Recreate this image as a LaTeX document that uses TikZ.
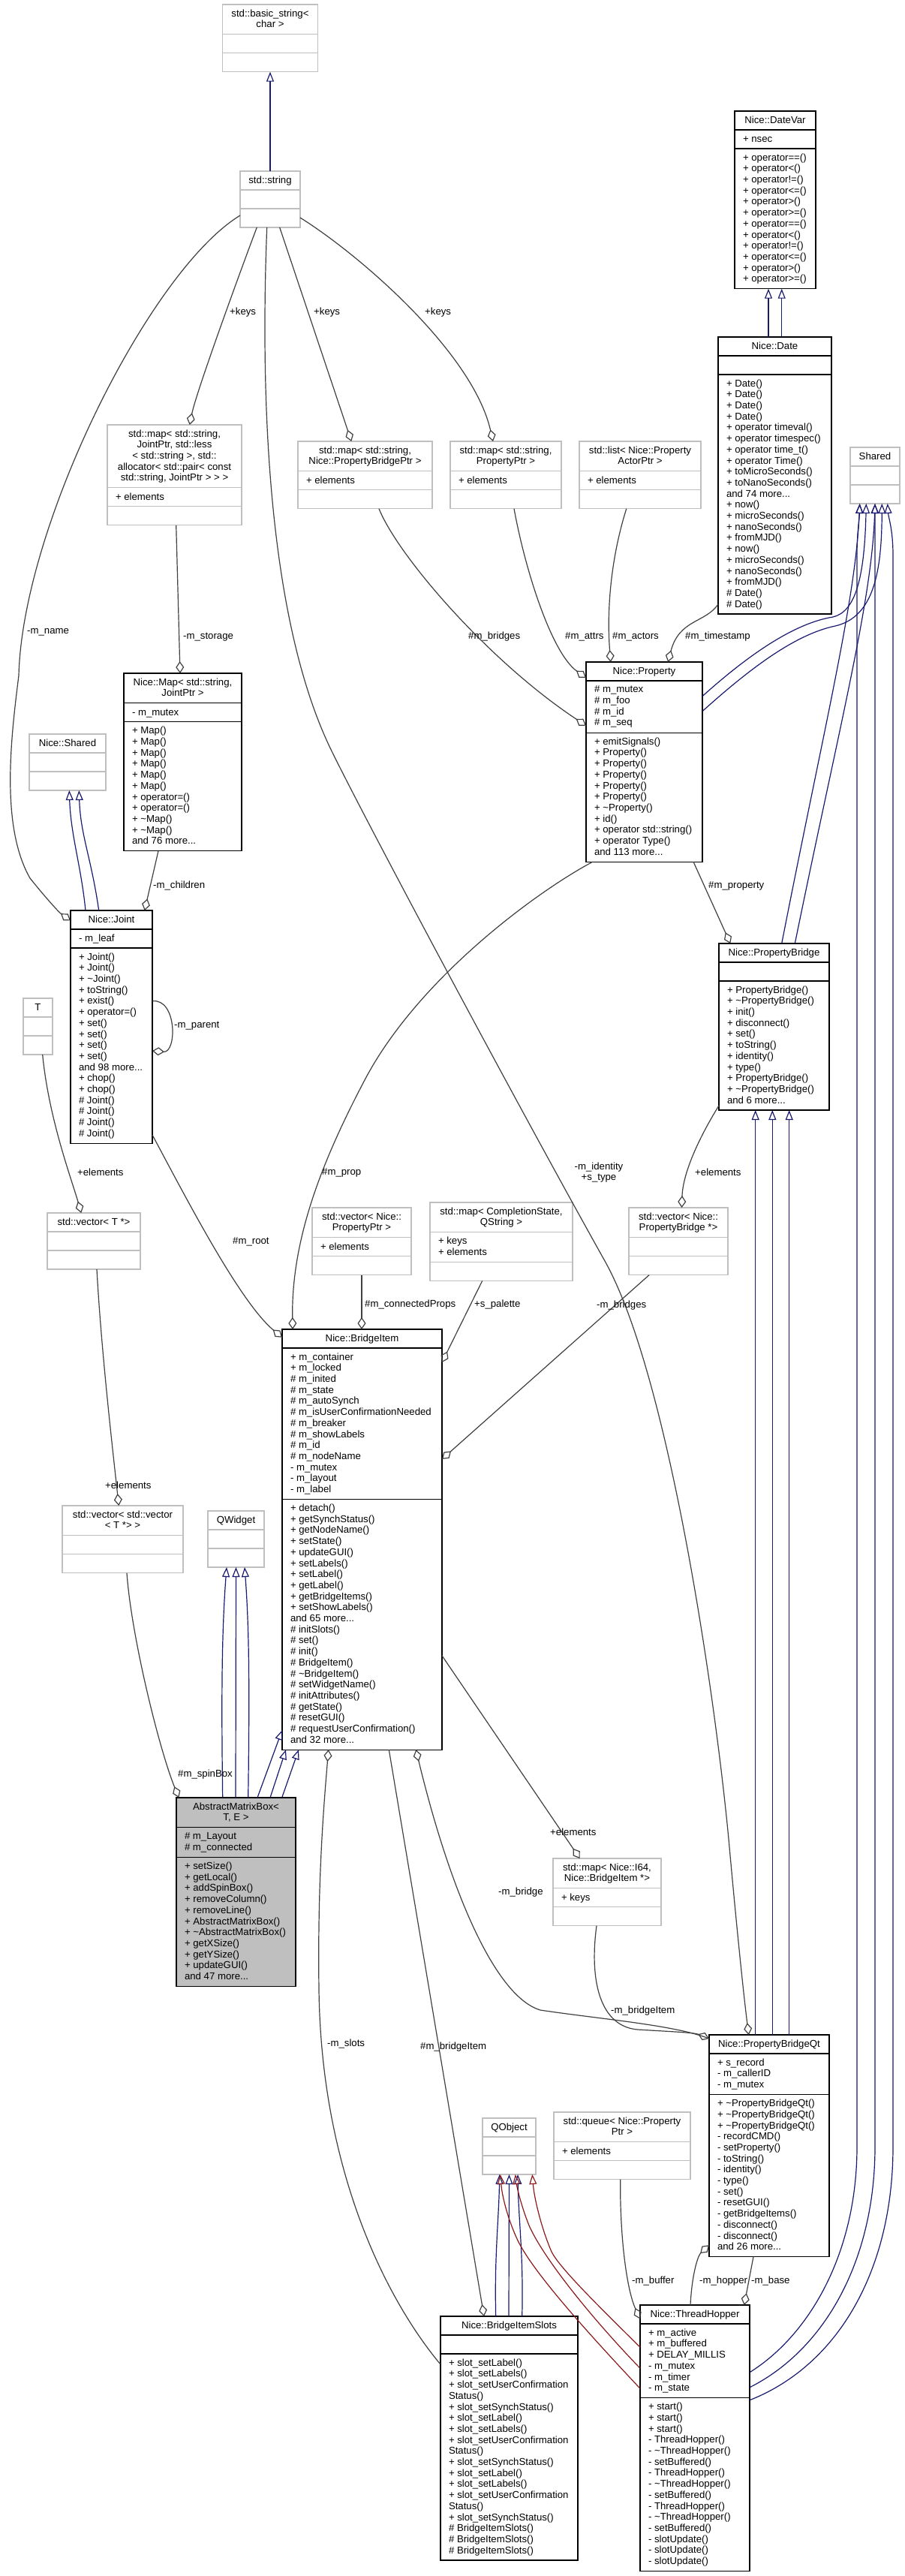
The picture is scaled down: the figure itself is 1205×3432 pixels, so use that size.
\documentclass[tikz,border=0pt]{standalone}
\usepackage{fontspec}
\setmainfont{Liberation Sans}
\usetikzlibrary{arrows.meta,calc}
\definecolor{boxgray}{HTML}{BFBFBF}
\definecolor{fillgray}{HTML}{BFBFBF}
\definecolor{edgegray}{HTML}{404040}
\definecolor{inhblue}{HTML}{191970}
\definecolor{inhred}{HTML}{8B1A1A}
\tikzset{
 txt/.style={inner sep=0pt, outer sep=0pt, font=\fontsize{13.2}{14.7}\selectfont, execute at begin node={\rule{0pt}{10pt}}},
 titletext/.style={txt, anchor=north, align=center},
 bodytext/.style={txt, anchor=north west, align=left},
 lbl/.style={inner sep=0pt, font=\fontsize{13.2}{14.7}\selectfont, anchor=west},
 inh/.style={draw=inhblue, line width=1.2pt, -{Triangle[open, length=13pt, width=10pt]}},
 inhr/.style={draw=inhred, line width=1.2pt, -{Triangle[open, length=13pt, width=10pt]}},
 agg/.style={draw=edgegray, line width=1.2pt, -{Diamond[open, length=16pt, width=11pt]}},
}
\pgfkeys{/umlb/.is family}
\pgfkeys{/umlb/.cd,
 x/.store in=\clsX, y/.store in=\clsY, w/.store in=\clsW,
 t/.store in=\clsT, a/.store in=\clsA, m/.store in=\clsM,
 doc/.code={\def\clsB{black}\def\clsF{white}},
 undoc/.code={\def\clsB{boxgray}\def\clsF{white}},
 filled/.code={\def\clsB{black}\def\clsF{fillgray}}}
\newcommand\umlbox[5]{%
 \pgfkeys{/umlb/.cd, t=1, a=1, m=1, undoc, #2}%
 \pgfmathsetmacro\hT{10.3+14.7*\clsT}%
 \pgfmathsetmacro\hA{10.3+14.7*\clsA}%
 \pgfmathsetmacro\hM{10.3+14.7*\clsM}%
 \pgfmathsetmacro\hH{\hT+\hA+\hM}%
 \pgfmathsetmacro\yA{\clsY+\hT}%
 \pgfmathsetmacro\yB{\clsY+\hT+\hA}%
 \pgfmathsetmacro\xR{\clsX+\clsW}%
 \pgfmathsetmacro\xC{\clsX+\clsW/2}%
 \node[draw=\clsB, fill=\clsF, line width=1.2pt, inner sep=0pt, outer sep=0pt,
   minimum width=\clsW pt, minimum height=\hH pt, anchor=north west] (#1) at (\clsX,\clsY) {};
 \draw[draw=\clsB, line width=1.2pt] (\clsX,\yA) -- (\xR,\yA) (\clsX,\yB) -- (\xR,\yB);
 \node[titletext] (#1-t) at (\xC,\clsY+6.6) {#3};
 \node[bodytext] (#1-a) at (\clsX+11,\yA+6.6) {#4};
 \node[bodytext] (#1-m) at (\clsX+11,\yB+6.6) {#5};
}
\begin{document}
\begin{tikzpicture}[x=1pt,y=-1pt]
\fill[white] (0,0) rectangle (1205,3432);
\useasboundingbox (0,0) rectangle (1205,3432);

% ---------- classes ----------
\umlbox{basic}{x=296.5,y=6,w=127,t=2}{std::basic\_string<\\char >}{}{}
\umlbox{string}{x=320,y=228,w=80}{std::string}{}{}
\umlbox{DateVar}{x=979,y=148,w=108,m=12,doc}{Nice::DateVar}{+ nsec}{+ operator==()\\+ operator<()\\+ operator!=()\\+ operator<=()\\+ operator>()\\+ operator>=()\\+ operator==()\\+ operator<()\\+ operator!=()\\+ operator<=()\\+ operator>()\\+ operator>=()}
\umlbox{Date}{x=957,y=449,w=151,m=21,doc}{Nice::Date}{}{+ Date()\\+ Date()\\+ Date()\\+ Date()\\+ operator timeval()\\+ operator timespec()\\+ operator time\_t()\\+ operator Time()\\+ toMicroSeconds()\\+ toNanoSeconds()\\and 74 more...\\+ now()\\+ microSeconds()\\+ nanoSeconds()\\+ fromMJD()\\+ now()\\+ microSeconds()\\+ nanoSeconds()\\+ fromMJD()\\\# Date()\\\# Date()}
\umlbox{Shared}{x=1133,y=596,w=66}{Shared}{}{}
\umlbox{mapJ}{x=143,y=566,w=179,t=5}{std::map< std::string,\\ JointPtr, std::less\\< std::string >, std::\\allocator< std::pair< const\\ std::string, JointPtr > > >}{+ elements}{}
\umlbox{mapPB}{x=397,y=588,w=179,t=2}{std::map< std::string,\\ Nice::PropertyBridgePtr >}{+ elements}{}
\umlbox{mapP}{x=600,y=588,w=148,t=2}{std::map< std::string,\\PropertyPtr >}{+ elements}{}
\umlbox{listA}{x=772,y=588,w=162,t=2}{std::list< Nice::Property\\ActorPtr >}{+ elements}{}
\umlbox{Property}{x=781,y=882,w=155,a=4,m=11,doc}{Nice::Property}{\# m\_mutex\\\# m\_foo\\\# m\_id\\\# m\_seq}{+ emitSignals()\\+ Property()\\+ Property()\\+ Property()\\+ Property()\\+ Property()\\+ \textasciitilde Property()\\+ id()\\+ operator std::string()\\+ operator Type()\\and 113 more...}
\umlbox{NiceMap}{x=165,y=897,w=157,t=2,m=11,doc}{Nice::Map< std::string,\\ JointPtr >}{- m\_mutex}{+ Map()\\+ Map()\\+ Map()\\+ Map()\\+ Map()\\+ Map()\\+ operator=()\\+ operator=()\\+ \textasciitilde Map()\\+ \textasciitilde Map()\\and 76 more...}
\umlbox{NShared}{x=39,y=978,w=102}{Nice::Shared}{}{}
\umlbox{Joint}{x=94,y=1213,w=109,m=17,doc}{Nice::Joint}{- m\_leaf}{+ Joint()\\+ Joint()\\+ \textasciitilde Joint()\\+ toString()\\+ exist()\\+ operator=()\\+ set()\\+ set()\\+ set()\\+ set()\\and 98 more...\\+ chop()\\+ chop()\\\# Joint()\\\# Joint()\\\# Joint()\\\# Joint()}
\umlbox{T}{x=31,y=1330,w=39}{T}{}{}
\umlbox{vecT}{x=63,y=1616,w=124}{std::vector< T *>}{}{}
\umlbox{PB}{x=958,y=1257,w=147,m=11,doc}{Nice::PropertyBridge}{}{+ PropertyBridge()\\+ \textasciitilde PropertyBridge()\\+ init()\\+ disconnect()\\+ set()\\+ toString()\\+ identity()\\+ type()\\+ PropertyBridge()\\+ \textasciitilde PropertyBridge()\\and 6 more...}
\umlbox{vecPP}{x=416,y=1609,w=132,t=2}{std::vector< Nice::\\PropertyPtr >}{+ elements}{}
\umlbox{mapCS}{x=573,y=1602,w=190,t=2,a=2}{std::map< CompletionState,\\ QString >}{+ keys\\+ elements}{}
\umlbox{vecPB}{x=838,y=1609,w=132,t=2}{std::vector< Nice::\\PropertyBridge *>}{}{}
\umlbox{BI}{x=376,y=1771,w=213,a=13,m=22,doc}{Nice::BridgeItem}{+ m\_container\\+ m\_locked\\\# m\_inited\\\# m\_state\\\# m\_autoSynch\\\# m\_isUserConfirmationNeeded\\\# m\_breaker\\\# m\_showLabels\\\# m\_id\\\# m\_nodeName\\- m\_mutex\\- m\_layout\\- m\_label}{+ detach()\\+ getSynchStatus()\\+ getNodeName()\\+ setState()\\+ updateGUI()\\+ setLabels()\\+ setLabel()\\+ getLabel()\\+ getBridgeItems()\\+ setShowLabels()\\and 65 more...\\\# initSlots()\\\# set()\\\# init()\\\# BridgeItem()\\\# \textasciitilde BridgeItem()\\\# setWidgetName()\\\# initAttributes()\\\# getState()\\\# resetGUI()\\\# requestUserConfirmation()\\and 32 more...}
\umlbox{QWidget}{x=277,y=2013,w=75}{QWidget}{}{}
\umlbox{vecVT}{x=83,y=2006,w=161,t=2}{std::vector< std::vector\\< T *> >}{}{}
\umlbox{AMB}{x=235,y=2395,w=159,t=2,a=2,m=11,filled}{AbstractMatrixBox<\\ T, E >}{\# m\_Layout\\\# m\_connected}{+ setSize()\\+ getLocal()\\+ addSpinBox()\\+ removeColumn()\\+ removeLine()\\+ AbstractMatrixBox()\\+ \textasciitilde AbstractMatrixBox()\\+ getXSize()\\+ getYSize()\\+ updateGUI()\\and 47 more...}
\umlbox{mapI64}{x=737,y=2476,w=144,t=2}{std::map< Nice::I64,\\ Nice::BridgeItem *>}{+ keys}{}
\umlbox{PBQt}{x=945,y=2711,w=160,a=3,m=14,doc}{Nice::PropertyBridgeQt}{+ s\_record\\- m\_callerID\\- m\_mutex}{+ \textasciitilde PropertyBridgeQt()\\+ \textasciitilde PropertyBridgeQt()\\+ \textasciitilde PropertyBridgeQt()\\- recordCMD()\\- setProperty()\\- toString()\\- identity()\\- type()\\- set()\\- resetGUI()\\- getBridgeItems()\\- disconnect()\\- disconnect()\\and 26 more...}
\umlbox{queue}{x=738,y=2814,w=182,t=2}{std::queue< Nice::Property\\Ptr >}{+ elements}{}
\umlbox{QObject}{x=643,y=2822,w=71}{QObject}{}{}
\umlbox{BIS}{x=587,y=3086,w=183,m=18,doc}{Nice::BridgeItemSlots}{}{+ slot\_setLabel()\\+ slot\_setLabels()\\+ slot\_setUserConfirmation\\Status()\\+ slot\_setSynchStatus()\\+ slot\_setLabel()\\+ slot\_setLabels()\\+ slot\_setUserConfirmation\\Status()\\+ slot\_setSynchStatus()\\+ slot\_setLabel()\\+ slot\_setLabels()\\+ slot\_setUserConfirmation\\Status()\\+ slot\_setSynchStatus()\\\# BridgeItemSlots()\\\# BridgeItemSlots()\\\# BridgeItemSlots()}
\umlbox{TH}{x=853,y=3071,w=146,a=6,m=15,doc}{Nice::ThreadHopper}{+ m\_active\\+ m\_buffered\\+ DELAY\_MILLIS\\- m\_mutex\\- m\_timer\\- m\_state}{+ start()\\+ start()\\+ start()\\- ThreadHopper()\\- \textasciitilde ThreadHopper()\\- setBuffered()\\- ThreadHopper()\\- \textasciitilde ThreadHopper()\\- setBuffered()\\- ThreadHopper()\\- \textasciitilde ThreadHopper()\\- setBuffered()\\- slotUpdate()\\- slotUpdate()\\- slotUpdate()}

% ---------- inheritance ----------
\draw[inh] (string.north) -- (basic.south);
\draw[inh] ([xshift=-8.5pt]Date.north) -- ([xshift=-9pt]DateVar.south);
\draw[inh] ([xshift=9.2pt]Date.north) -- ([xshift=8.7pt]DateVar.south);
\draw[inh] ([xshift=20pt]Joint.north west) .. controls +(-6,-60) and +(2,60) .. ([xshift=2.3pt]NShared.south);
\draw[inh] ([xshift=37.7pt]Joint.north west) .. controls +(-10,-70) and +(2,60) .. ([xshift=15.3pt]NShared.south);
\draw[inh] ([yshift=-45.6pt]Property.north east) .. controls (1000,870) and (1060,830) .. (1110,822) .. controls (1140,815) and (1152,770) .. ([xshift=-11.7pt]Shared.south);
\draw[inh] ([yshift=-65.6pt]Property.north east) .. controls (1000,890) and (1060,845) .. (1113,834) .. controls (1165,822) and (1175,760) .. ([xshift=9.3pt]Shared.south);
\draw[inh] ([xshift=83.7pt]PB.north west) .. controls (1100,960) and (1140,800) .. ([xshift=-20.3pt]Shared.south);
\draw[inh] ([xshift=101.3pt]PB.north west) .. controls (1120,960) and (1162,800) .. (Shared.south);
\draw[inh] ([yshift=-89.7pt]TH.north east) .. controls (1080,3110) and (1142,3000) .. (1142,2860) -- (1142,740) .. controls (1142,710) and (1145,695) .. ([xshift=-20.3pt]Shared.south);
\draw[inh] ([yshift=-109.7pt]TH.north east) .. controls (1100,3130) and (1166,3010) .. (1166,2860) -- (Shared.south);
\draw[inh] ([yshift=-126.7pt]TH.north east) .. controls (1120,3150) and (1190,3020) .. (1190,2860) -- (1190,740) .. controls (1190,705) and (1184,690) .. ([xshift=16.7pt]Shared.south);
\draw[inh] ([xshift=61.7pt]PBQt.north west) -- ([xshift=48.7pt]PB.south west);
\draw[inh] ([xshift=84.3pt]PBQt.north west) -- ([xshift=71.3pt]PB.south west);
\draw[inh] ([xshift=106.7pt]PBQt.north west) -- ([xshift=93.7pt]PB.south west);
\draw[inh] ([xshift=61.7pt]AMB.north west) .. controls +(-2,-150) and +(-6,80) .. ([xshift=-12.5pt]QWidget.south);
\draw[inh] ([xshift=79pt]AMB.north west) -- (QWidget.south);
\draw[inh] ([xshift=95.7pt]AMB.north west) .. controls +(2,-150) and +(6,80) .. ([xshift=11.5pt]QWidget.south);
\draw[inh] ([xshift=108pt]AMB.north west) -- ([yshift=26pt]BI.south west);
\draw[inh] ([xshift=125pt]AMB.north west) -- ([xshift=5pt]BI.south west);
\draw[inh] ([xshift=140.7pt]AMB.north west) -- ([xshift=22pt]BI.south west);
\draw[inh] ([xshift=73.7pt]BIS.north west) .. controls +(-2,-80) and +(-1,60) .. ([xshift=-12.8pt]QObject.south);
\draw[inh] ([xshift=91pt]BIS.north west) -- (QObject.south);
\draw[inh] ([xshift=108.7pt]BIS.north west) .. controls +(2,-80) and +(1,60) .. ([xshift=11.5pt]QObject.south);
\draw[inhr] ([yshift=-56.1pt]TH.north west) .. controls (790,3065) and (745,3020) .. (735,3000) .. controls (722,2970) and (712,2930) .. ([xshift=30.8pt]QObject.south);
\draw[inhr] ([yshift=-84.2pt]TH.north west) .. controls (790,3090) and (725,3010) .. (705,2965) .. controls (695,2940) and (689,2915) .. ([xshift=8.2pt]QObject.south);
\draw[inhr] ([yshift=-111.2pt]TH.north west) .. controls (790,3115) and (712,3030) .. (690,2985) .. controls (676,2955) and (669,2925) .. ([xshift=-11.8pt]QObject.south);

% ---------- aggregation ----------
\draw[agg] ([xshift=22.3pt]string.south west) .. controls (330,335) and (262,520) .. ([xshift=109.7pt]mapJ.north west);
\draw[agg] ([xshift=52.7pt]string.south west) -- ([xshift=71.3pt]mapPB.north west);
\draw[agg] ([yshift=-62pt]string.north east) .. controls (480,340) and (630,470) .. ([xshift=57pt]mapP.north west);
\draw[agg] ([yshift=-59pt]string.north west) .. controls (200,360) and (30,700) .. (25,900) .. controls (15,980) and (0,1100) .. (40,1170) .. controls (60,1195) and (78,1215) .. ([yshift=-13.5pt]Joint.north west);
\draw[agg] ([xshift=35.7pt]string.south west) .. controls (350,450) and (344,800) .. (441.7,1000) .. controls (490.7,1100) and (694,1480) .. (806,1680) .. controls (890,1830) and (952,2250) .. (971,2450) .. controls (980,2550) and (990,2650) .. ([xshift=52.7pt]PBQt.north west);
\draw[agg] ([xshift=62.8pt]listA.south west) .. controls (815,740) and (808,810) .. ([xshift=32.8pt]Property.north west);
\draw[agg] ([xshift=85pt]mapP.south west) .. controls (700,760) and (735,870) .. ([yshift=-21pt]Property.north west);
\draw[agg] ([xshift=108pt]mapPB.south west) .. controls (530,740) and (650,880) .. ([yshift=-84.7pt]Property.north west);
\draw[agg] ([yshift=-356pt]Date.north west) .. controls (940,830) and (905,825) .. ([xshift=109.2pt]Property.north west);
\draw[agg] ([xshift=91.7pt]mapJ.south west) -- ([xshift=75pt]NiceMap.north west);
\draw[agg] ([xshift=46pt]NiceMap.south west) -- ([xshift=98.7pt]Joint.north west);
\draw[agg] ([yshift=-120.7pt]Joint.north east) .. controls (236,1330) and (236,1403) .. ([yshift=-187pt]Joint.north east);
\draw[agg] ([xshift=25.7pt]T.south west) .. controls (65,1490) and (95,1570) .. ([xshift=45.3pt]vecT.north west);
\draw[agg] ([xshift=66pt]vecT.south west) .. controls (135,1800) and (150,1930) .. ([xshift=75.3pt]vecVT.north west);
\draw[agg] ([xshift=86pt]vecVT.south west) .. controls (175,2180) and (212,2330) .. ([xshift=3.3pt]AMB.north west);
\draw[agg] ([yshift=-299pt]Joint.north east) .. controls (250,1600) and (320,1735) .. ([yshift=-10.8pt]BI.north west);
\draw[agg] ([xshift=9pt]Property.south west) .. controls (720,1185) and (560,1300) .. (487,1437) .. controls (430,1545) and (388,1650) .. ([xshift=14pt]BI.north west);
\draw[agg] ([xshift=66pt]vecPP.south west) -- ([xshift=106pt]BI.north west);
\draw[agg] ([xshift=69.7pt]mapCS.south west) -- ([yshift=-44pt]BI.north east);
\draw[agg] ([xshift=27pt]vecPB.south west) -- ([yshift=-173pt]BI.north east);
\draw[agg] ([yshift=6pt]PB.south west) .. controls (935,1510) and (910,1560) .. ([xshift=70.5pt]vecPB.north west);
\draw[agg] ([xshift=143pt]Property.south west) -- ([xshift=15.3pt]PB.north west);
\draw[agg] ([yshift=-434.8pt]BI.north east) -- ([xshift=35.7pt]mapI64.north west);
\draw[agg] ([xshift=58pt]mapI64.south west) .. controls (785,2640) and (800,2700) .. (850,2704) .. controls (900,2707) and (925,2708) .. ([yshift=-5pt]PBQt.north west);
\draw[agg] ([yshift=-5pt]PBQt.north west) .. controls (900,2698) and (800,2690) .. (720,2678) .. controls (660,2660) and (600,2520) .. ([xshift=178.3pt]BI.south west);
\draw[agg] ([yshift=-64pt]BIS.north west) .. controls (520,3070) and (428,2900) .. (425,2650) .. controls (423,2500) and (432,2400) .. ([xshift=61.7pt]BI.south west);
\draw[agg] ([xshift=142.3pt]BI.south west) -- ([xshift=58pt]BIS.north west);
\draw[agg] ([xshift=88.7pt]queue.south west) .. controls (826,2980) and (835,3050) .. ([yshift=-18.5pt]TH.north west);
\draw[agg] ([xshift=67pt]TH.north west) .. controls (922,3030) and (930,3005) .. ([yshift=15.3pt]PBQt.south west);
\draw[agg] ([xshift=59pt]PBQt.south west) -- ([xshift=138.7pt]TH.north west);

% ---------- labels ----------
\node[lbl] (l1) at (306,416) {+keys};
\node[lbl] (l2) at (418,416) {+keys};
\node[lbl] (l3) at (566,416) {+keys};
\node[lbl] (l4) at (36,842) {-m\_name};
\node[lbl] (l5) at (244,849) {-m\_storage};
\node[lbl] (l6) at (624,848) {\#m\_bridges};
\node[lbl] (l7) at (753,848) {\#m\_attrs};
\node[lbl] (l8) at (816,848) {\#m\_actors};
\node[lbl] (l9) at (913,848) {\#m\_timestamp};
\node[lbl] (l10) at (204,1180) {-m\_children};
\node[lbl] (l11) at (232,1367) {-m\_parent};
\node[lbl] (l12) at (944,1180) {\#m\_property};
\node[lbl] (l13) at (103,1562) {+elements};
\node[lbl] (l14) at (429,1562) {\#m\_prop};
\node[lbl, anchor=center, align=center] (l15) at (798,1562) {-m\_identity\\+s\_type};
\node[lbl] (l16) at (926,1562) {+elements};
\node[lbl] (l17) at (310,1654) {\#m\_root};
\node[lbl] (l18) at (486,1738) {\#m\_connectedProps};
\node[lbl] (l19) at (632,1738) {+s\_palette};
\node[lbl] (l20) at (795,1739) {-m\_bridges};
\node[lbl] (l21) at (140,1979) {+elements};
\node[lbl] (l22) at (237,2364) {\#m\_spinBox};
\node[lbl] (l23) at (733,2441) {+elements};
\node[lbl] (l24) at (664,2521) {-m\_bridge};
\node[lbl] (l25) at (814,2679) {-m\_bridgeItem};
\node[lbl] (l26) at (436,2723) {-m\_slots};
\node[lbl] (l27) at (560,2727) {\#m\_bridgeItem};
\node[lbl] (l28) at (842,3039) {-m\_buffer};
\node[lbl] (l29) at (932,3039) {-m\_hopper};
\node[lbl] (l30) at (1001,3039) {-m\_base};
\end{tikzpicture}
\end{document}
